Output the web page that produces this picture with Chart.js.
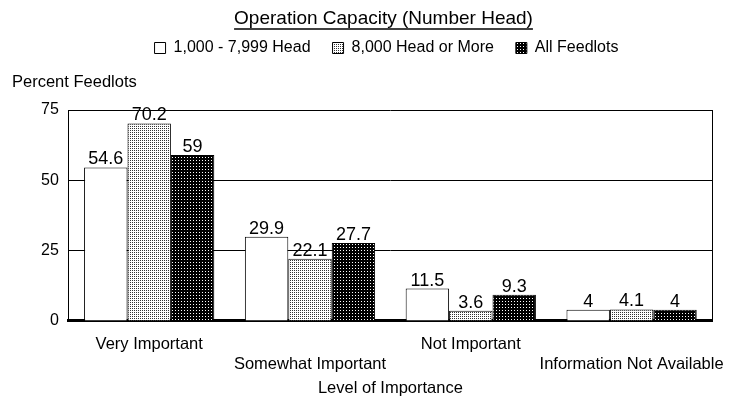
<!DOCTYPE html>
<html>
<head>
<meta charset="utf-8">
<script src="https://cdn.jsdelivr.net/npm/chart.js@4"></script>
<style>
  html, body { margin: 0; padding: 0; background: #fff; }
  #wrap { width: 740px; height: 400px; }
</style>
</head>
<body>
<div id="wrap"><canvas id="c" width="740" height="400"></canvas></div>
<script>
const categories = [ 'Very Important', 'Somewhat Important', 'Not Important', 'Information Not Available' ];
const seriesNames = [ '1,000 - 7,999 Head', '8,000 Head or More', 'All Feedlots' ];
const smallLots = [ 54.6, 29.9, 11.5, 4 ];
const largeLots = [ 70.2, 22.1, 3.6, 4.1 ];
const allLots = [ 59, 27.7, 9.3, 4 ];
const yTicks = [ 0, 25, 50, 75 ];

const FONT = '"Liberation Sans", Arial, sans-serif';

// little tiles to mimic the old printed hatching
function makePattern ( bg, fg, size, dots ) {
    const t = document.createElement( 'canvas' );
    t.width = size; t.height = size;
    const g = t.getContext( '2d' );
    g.fillStyle = bg; g.fillRect( 0, 0, size, size );
    g.fillStyle = fg;
    dots.forEach( d => g.fillRect( d[0], d[1], 1, 1 ) );
    return document.getElementById( 'c' ).getContext( '2d' ).createPattern( t, 'repeat' );
}
const lightDots = makePattern( '#ffffff', '#333333', 2, [ [ 0, 0 ] ] );
const darkDots = makePattern( '#000000', '#ffffff', 3, [ [ 1, 1 ] ] );

const valueLabels = {
    id: 'valueLabels',
    afterDatasetsDraw ( chart ) {
        const ctx = chart.ctx;
        ctx.save();
        ctx.font = '18px ' + FONT;
        ctx.fillStyle = '#000';
        ctx.textAlign = 'center';
        ctx.textBaseline = 'bottom';
        chart.data.datasets.forEach( ( ds, i ) => {
            chart.getDatasetMeta( i ).data.forEach( ( bar, j ) => {
                ctx.fillText( String( ds.data[ j ] ), bar.x, bar.y + 1 );
            } );
        } );
        ctx.restore();
    }
};

const extras = {
    id: 'extras',
    beforeInit ( chart ) {
        const fit = chart.legend.fit;
        chart.legend.fit = function () { fit.bind( chart.legend )(); this.height += 44; };
    },
    afterLayout ( chart ) {
        // the original header sits a bit right of centre
        chart.titleBlock.left += 12; chart.titleBlock.right += 12;
        chart.legend.left += 15; chart.legend.right += 15;
    },
    afterDraw ( chart ) {
        const ctx = chart.ctx;
        ctx.save();
        // underline the title
        const tb = chart.titleBlock;
        ctx.font = '19px ' + FONT;
        const w = ctx.measureText( tb.options.text ).width;
        const cx = ( tb.left + tb.right ) / 2;
        const uy = tb.top + tb.options.padding.top + 20;
        ctx.strokeStyle = '#000'; ctx.lineWidth = 1.3;
        ctx.beginPath(); ctx.moveTo( cx - w / 2, uy ); ctx.lineTo( cx + w / 2, uy ); ctx.stroke();
        // y axis caption, horizontal above the axis
        ctx.font = '16.5px ' + FONT;
        ctx.fillStyle = '#000';
        ctx.textBaseline = 'middle';
        ctx.fillText( 'Percent Feedlots', 12, 82 );
        ctx.restore();
    }
};

new Chart( document.getElementById( 'c' ), {
    type: 'bar',
    data: {
        labels: categories.map( ( c, i ) => i % 2 ? [ '', c ] : [ c ] ),
        datasets: [
            { label: seriesNames[0], data: smallLots, backgroundColor: '#ffffff' },
            { label: seriesNames[1], data: largeLots, backgroundColor: lightDots },
            { label: seriesNames[2], data: allLots, backgroundColor: darkDots }
        ].map( d => Object.assign( d, { borderColor: '#000', borderWidth: 1, barPercentage: 1, categoryPercentage: 0.81 } ) )
    },
    options: {
        responsive: false,
        animation: false,
        layout: { padding: { left: 31, right: 28, top: 0, bottom: 2 } },
        scales: {
            x: {
                grid: { display: false },
                border: { color: '#000', width: 3 },
                ticks: { color: '#000', font: { size: 16.5, family: FONT, lineHeight: 1.22 }, padding: 5, maxRotation: 0, autoSkip: false },
                title: { display: true, text: 'Level of Importance', color: '#000', font: { size: 16.5, family: FONT }, padding: { top: -1, bottom: 0 } }
            },
            y: {
                min: 0, max: 75,
                afterBuildTicks: ax => { ax.ticks = yTicks.map( v => ( { value: v } ) ); },
                grid: { color: '#000', lineWidth: 1, drawTicks: false },
                border: { color: '#000', width: 1 },
                ticks: { color: '#000', font: { size: 16, family: FONT }, padding: 10 }
            },
            y2: {
                position: 'right',
                min: 0, max: 75,
                grid: { drawOnChartArea: false, drawTicks: false },
                border: { color: '#000', width: 1 },
                ticks: { display: false }
            }
        },
        plugins: {
            title: {
                display: true,
                text: 'Operation Capacity (Number Head)',
                color: '#000',
                font: { size: 19, family: FONT, weight: 'normal', lineHeight: 1 },
                padding: { top: 9, bottom: -10 }
            },
            legend: {
                labels: {
                    color: '#000',
                    font: { size: 16, family: FONT },
                    boxWidth: 11, boxHeight: 11, padding: 22
                }
            },
            tooltip: { enabled: false }
        }
    },
    plugins: [ valueLabels, extras ]
} );
</script>
</body>
</html>
